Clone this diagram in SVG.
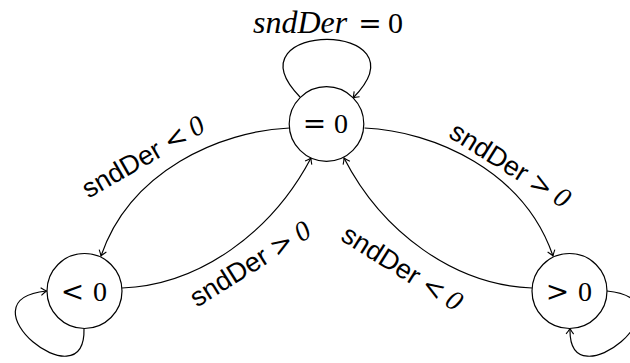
<svg xmlns="http://www.w3.org/2000/svg" width="630" height="363" viewBox="0 0 630 363">
<style>
.node{fill:#fff;stroke:#000;stroke-width:1.2}
.edge{fill:none;stroke:#000;stroke-width:1.2;marker-end:url(#arr)}
.num{font-family:"Liberation Serif",serif;font-size:28px;fill:#000}
.op{font-family:"DejaVu Serif",serif;font-size:28px;fill:#000}
.sans{font-family:"Liberation Sans",Arial,sans-serif;font-size:27px;fill:#000}
.opl{font-family:"DejaVu Serif",serif;font-size:27px}
.numi{font-family:"Liberation Serif",serif;font-size:28px;font-style:italic}
.mi{font-family:"Liberation Serif",serif;font-size:32px;font-style:italic;fill:#000}
</style>
<defs>
<marker id="arr" viewBox="-7 -5 8 10" refX="0" refY="0" markerWidth="8" markerHeight="10" markerUnits="userSpaceOnUse" orient="auto">
<path d="M-5.5,-3.8 Q-2,-1 0,0 Q-2,1 -5.5,3.8" fill="none" stroke="#000" stroke-width="1.1"/>
</marker>
</defs>
<g id="connectors">
<path class="edge" d="M300,97 C 225,20 430,20 353,98"/>
<path class="edge" d="M84,328.5 C 86,405 -42,300 46.5,291"/>
<path class="edge" d="M607,291 C 696,300 568,405 570,328.5"/>
<path class="edge" d="M289.5,128 C 220,131 130,171 101,256"/>
<path class="edge" d="M122,288 C 200,285 272,232 311,158"/>
<path class="edge" d="M364.5,128 C 434,131 524,171 553,256"/>
<path class="edge" d="M532,288 C 454,285 382,232 344,158"/>
</g>
<g id="labels">
<text class="mi" x="253" y="33">sndDer</text>
<text class="op" x="370" y="33" text-anchor="middle">=</text>
<text class="num" x="388" y="33" style="font-size:30px">0</text>
<g transform="translate(143,157) rotate(-30)">
<text x="-68" y="9"><tspan class="sans">sndDer</tspan><tspan class="opl" dx="7">&lt;</tspan><tspan class="numi" dx="6">0</tspan></text>
</g>
<g transform="translate(250,264) rotate(-32)">
<text x="-68" y="9"><tspan class="sans">sndDer</tspan><tspan class="opl" dx="7">&gt;</tspan><tspan class="numi" dx="6">0</tspan></text>
</g>
<g transform="translate(402,268) rotate(32)">
<text x="-68" y="9"><tspan class="sans">sndDer</tspan><tspan class="opl" dx="7">&lt;</tspan><tspan class="numi" dx="6">0</tspan></text>
</g>
<g transform="translate(510,165) rotate(32)">
<text x="-68" y="9"><tspan class="sans">sndDer</tspan><tspan class="opl" dx="7">&gt;</tspan><tspan class="numi" dx="6">0</tspan></text>
</g>
</g>
<g id="node-eq">
<circle class="node" cx="326.5" cy="124" r="37.3"/>
<text class="op" x="314.5" y="133" text-anchor="middle">=</text>
<text class="num" x="334" y="133">0</text>
</g>
<g id="node-lt">
<circle class="node" cx="84.5" cy="291" r="37.5"/>
<text class="op" x="72.5" y="301" text-anchor="middle">&lt;</text>
<text class="num" x="93" y="301">0</text>
</g>
<g id="node-gt">
<circle class="node" cx="569.5" cy="291" r="37.5"/>
<text class="op" x="557.5" y="301" text-anchor="middle">&gt;</text>
<text class="num" x="578" y="301">0</text>
</g>
</svg>
